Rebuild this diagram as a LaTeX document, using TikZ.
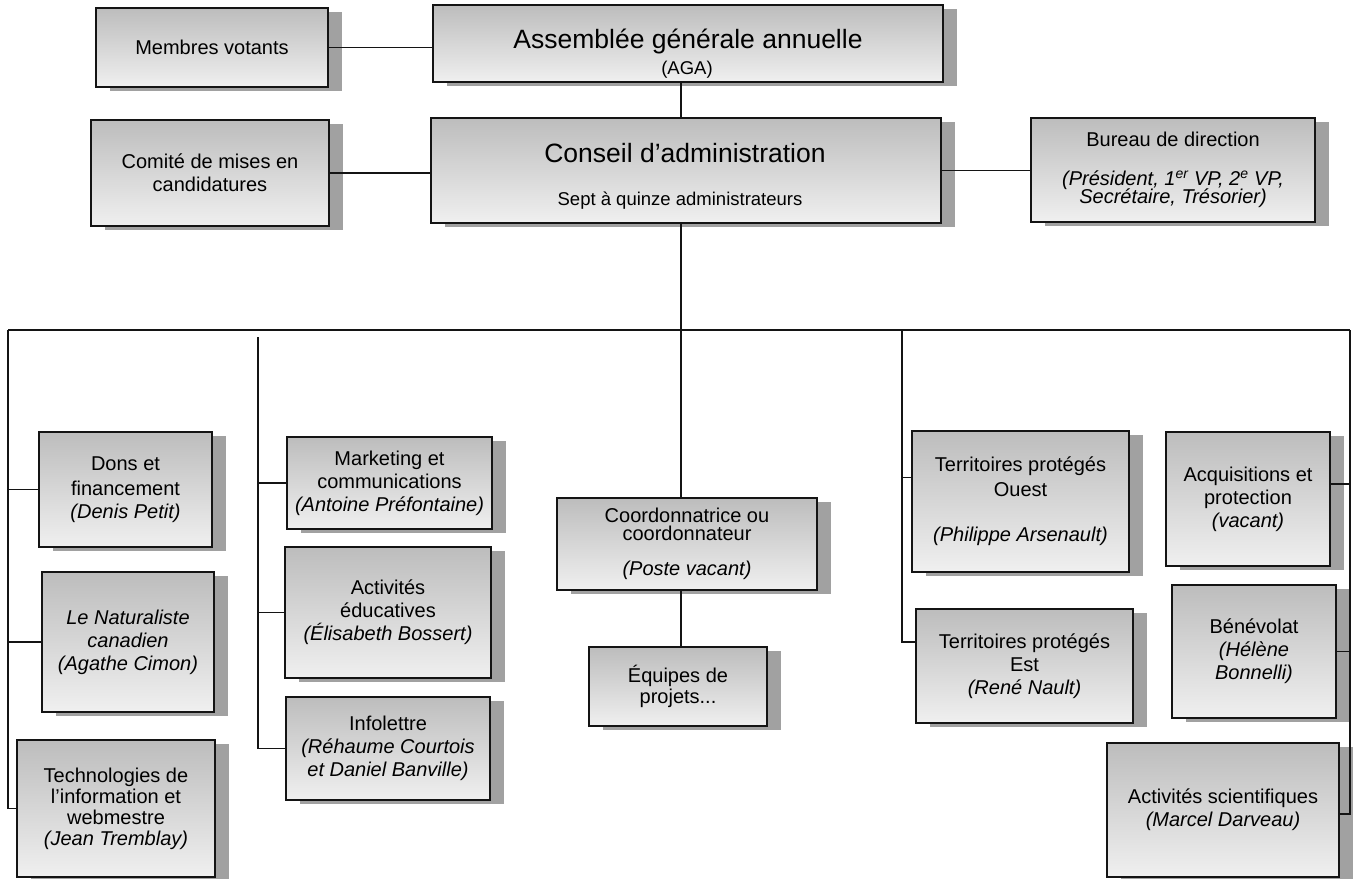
\documentclass[tikz,border=0pt]{standalone}
\usepackage{fontspec}
\setmainfont{Liberation Sans}
\usepackage{tikz}
\usetikzlibrary{shadows}

\definecolor{boxtop}{gray}{0.74}
\definecolor{boxbot}{gray}{0.94}
\definecolor{shadowgray}{gray}{0.63}
\definecolor{edge}{gray}{0.08}

\newcommand\bodyfont{\fontsize{20}{23}\selectfont}
\newcommand\titlefont{\fontsize{26.5}{30}\selectfont}
\newcommand\subfont{\fontsize{18.5}{22}\selectfont}

\begin{document}
\begin{tikzpicture}[x=1pt, y=-1pt,
        box/.style={draw=edge, line width=2pt, top color=boxtop, bottom color=boxbot,
            drop shadow={shadow xshift=14pt, shadow yshift=-4pt, fill=shadowgray, opacity=1},
            align=center, font=\bodyfont, inner sep=2pt},
        boxsize/.style 2 args={minimum width=#1pt, minimum height=#2pt},
        link/.style={draw=edge, line width=1.8pt}]
        \path[use as bounding box, fill=white] (0,0) rectangle (1356,878);

        %---------------- Top: AGA, Conseil ----------------%
        \node[box, boxsize={232}{79}] (memb) at (212,47.5) {Membres votants};
        \node[box, boxsize={510}{77}] (aga) at (688,43.5) {};
        \node[anchor=base, font=\titlefont] (agaT) at (688,48) {Assemblée générale annuelle};
        \node[anchor=base, font=\subfont] (agaS) at (687,74) {(AGA)};
        \node[box, boxsize={238}{106}] (comite) at (210,173) {Comité de mises en\\candidatures};
        \node[box, boxsize={510}{105}] (conseil) at (686,170.5) {};
        \node[anchor=base, font=\titlefont] (conseilT) at (685,162) {Conseil d'administration};
        \node[anchor=base, font=\subfont] (conseilS) at (680,205) {Sept à quinze administrateurs};
        \node[box, boxsize={284}{104}] (bureau) at (1173,170) {Bureau de direction\\[16pt]
            \textit{(Président, 1\textsuperscript{er} VP, 2\textsuperscript{e} VP,}\\[-5pt]
            \textit{Secrétaire, Trésorier)}};

        %---------------- Left columns ----------------%
        \node[box, boxsize={173}{115}] (dons) at (125.5,489.5) {Dons et\\[2pt]financement\\\textit{(Denis Petit)}};
        \node[box, boxsize={172}{140}] (natur) at (128,642) {\textit{Le Naturaliste}\\\textit{canadien}\\\textit{(Agathe Cimon)}};
        \node[box, boxsize={198}{137}] (techno) at (116,808.5) {Technologies de\\[-2pt]l'information et\\[-2pt]webmestre\\[-2pt]\textit{(Jean Tremblay)}};
        \node[box, boxsize={205}{92}] (mark) at (389.5,483) {Marketing et\\communications\\\textit{(Antoine Préfontaine)}};
        \node[box, boxsize={206}{131}] (actedu) at (388,612.5) {Activités\\éducatives\\\textit{(Élisabeth Bossert)}};
        \node[box, boxsize={204}{103}] (info) at (388,748.5) {Infolettre\\\textit{(Réhaume Courtois}\\\textit{et Daniel Banville)}};

        %---------------- Centre ----------------%
        \node[box, boxsize={260}{92}] (coord) at (687,544) {Coordonnatrice ou\\[-5pt]coordonnateur\\[12pt]\textit{(Poste vacant)}};
        \node[box, boxsize={178}{79}] (equipes) at (678,686.5) {Équipes de\\[-2pt]projets...};

        %---------------- Right columns ----------------%
        \node[box, boxsize={217}{141}] (tpo) at (1020.5,501.5) {Territoires protégés\\[2pt]Ouest\\[22pt]\textit{(Philippe Arsenault)}};
        \node[box, boxsize={217}{114}] (tpe) at (1024.5,666) {Territoires protégés\\Est\\\textit{(René Nault)}};
        \node[box, boxsize={164}{134}] (acq) at (1248,499) {Acquisitions et\\protection\\\textit{(vacant)}};
        \node[box, boxsize={164}{133}] (bene) at (1254,651.5) {Bénévolat\\\textit{(Hélène}\\\textit{Bonnelli)}};
        \node[box, boxsize={232}{134}] (actsci) at (1223,810) {Activités scientifiques\\\textit{(Marcel Darveau)}};

        %---------------- Connectors ----------------%
        \coordinate (trunk) at (681,330);
        \coordinate (busW) at (8,330);
        \coordinate (busE) at (1350,330);
        \coordinate (spineB) at (258,337);
        \coordinate (spineC) at (902,330);
        \coordinate (tpoJ) at ([yshift=24pt]tpo.west);
        \coordinate (tpeJ) at ([yshift=24pt]tpe.west);
        \coordinate (acqJ) at ([yshift=15pt]acq.east);
        \coordinate (actsciJ) at ([yshift=-4pt]actsci.east);

        \draw[link] (memb.east) -- (memb.east -| aga.west);
        \draw[link] (comite.east) -- (comite.east -| conseil.west);
        \draw[link] (conseil.east) -- (conseil.east -| bureau.west);
        \draw[link] (aga.south -| trunk) -- (conseil.north -| trunk);
        \draw[link] (conseil.south -| trunk) -- (coord.north -| trunk);
        \draw[link] (coord.south -| trunk) -- (equipes.north -| trunk);
        \draw[link] (busW) -- (busE);
        % colonne gauche
        \draw[link] (busW) -- (busW |- techno.west) -- (techno.west);
        \draw[link] (busW |- dons.west) -- (dons.west);
        \draw[link] (busW |- natur.west) -- (natur.west);
        % colonne communications
        \draw[link] (spineB) -- (spineB |- info.west) -- (info.west);
        \draw[link] (spineB |- mark.west) -- (mark.west);
        \draw[link] (spineB |- actedu.west) -- (actedu.west);
        % territoires
        \draw[link] (spineC) -- (spineC |- tpeJ) -- (tpeJ);
        \draw[link] (spineC |- tpoJ) -- (tpoJ);
        % colonne droite
        \draw[link] (busE) -- (busE |- actsciJ) -- (actsciJ);
        \draw[link] (busE |- acqJ) -- (acqJ);
        \draw[link] (busE |- bene.east) -- (bene.east);
    \end{tikzpicture}
\end{document}
